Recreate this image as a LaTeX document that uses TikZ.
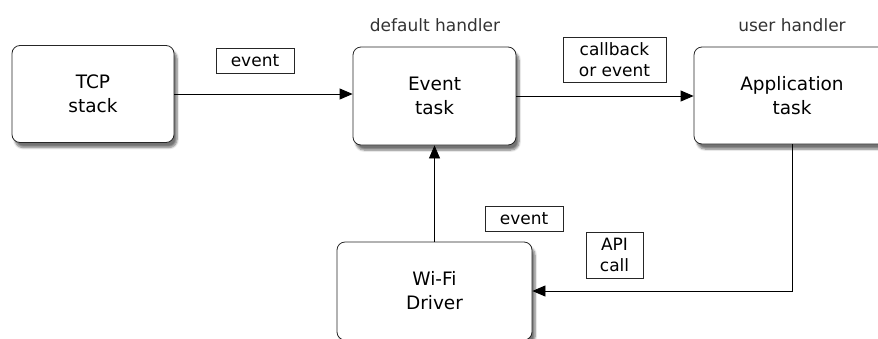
\documentclass[tikz,border=0pt]{standalone}
\usepackage{fontspec}
\setmainfont{DejaVu Sans}
\usetikzlibrary{arrows.meta,shadows.blur}

\begin{document}
\begin{tikzpicture}[x=1pt, y=-1pt]
        \tikzstyle{task}=[draw=black!85, line width=0.8pt, rounded corners=8pt, fill=white,
                minimum width=162pt, minimum height=97pt, align=center,
                font=\fontsize{18.5}{24}\selectfont,
                blur shadow={shadow xshift=3pt, shadow yshift=-5pt, shadow blur steps=6, shadow opacity=55}]
        \tikzstyle{tag}=[draw=black!85, line width=0.8pt, fill=white, inner sep=0pt, align=center,
                minimum height=25pt, font=\fontsize{17}{21}\selectfont]
        \tikzstyle{role}=[inner sep=0pt, font=\fontsize{17}{21}\selectfont, text=black!80]
        \tikzstyle{flow}=[line width=0.8pt, -{Triangle[length=13pt, width=11pt]}]

        \useasboundingbox (0,0) rectangle (878,338);

% The four tasks, the last two run off the edge of the page.

        \node[task] (tcp) at (93,94) {TCP\\stack};
        \node[task, minimum width=163pt, minimum height=98pt] (evt) at (434.5,96) {Event\\task};
        \node[task, minimum width=196pt] (app) at (792,95.5) {Application\\task};
        \node[task, minimum width=195pt, minimum height=98pt] (wifi) at (434.5,291) {Wi-Fi\\Driver};

        \node[role] (deflbl) at (435,25) {default handler};
        \node[role] (usrlbl) at (792,25) {user handler};

% Messages between them.

        \draw[flow] (tcp.east |- 0,94) -- (evt.west |- 0,94);
        \draw[flow] (evt.east) -- (app.west |- evt.east);
        \draw[flow] (wifi.north) -- (evt.south);
        \draw[flow] (app.south) -- (app.south |- wifi.east) -- (wifi.east);

        \node[tag, minimum width=78pt] (evtag) at (255,61) {event};
        \node[tag, minimum width=103pt, minimum height=45pt] (cbtag) at (614.5,59.5) {callback\\or event};
        \node[tag, minimum width=78pt] (wftag) at (524,218.5) {event};
        \node[tag, minimum width=57pt, minimum height=46pt] (apitag) at (614.5,255) {API\\call};

    \end{tikzpicture}
\end{document}
